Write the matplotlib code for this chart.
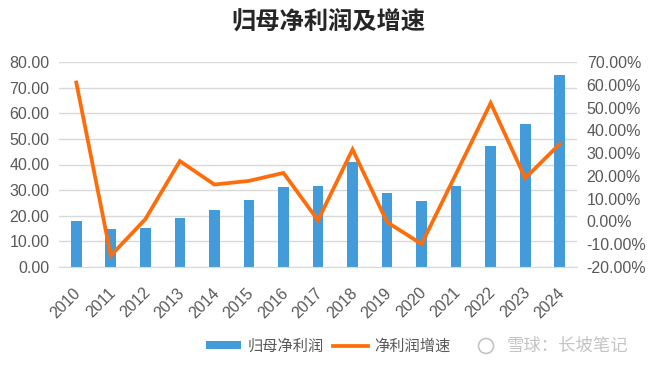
import matplotlib
matplotlib.use("Agg")
import matplotlib.pyplot as plt
import matplotlib.transforms as mtransforms
from matplotlib.patches import Patch, Ellipse
from matplotlib.lines import Line2D
from matplotlib.ticker import FuncFormatter, MultipleLocator

plt.rcParams['font.family'] = ['Liberation Sans', 'Noto Sans CJK SC', 'DejaVu Sans']

years = ['2010', '2011', '2012', '2013', '2014', '2015', '2016', '2017',
         '2018', '2019', '2020', '2021', '2022', '2023', '2024']
net_profit = [17.8, 14.8, 15.2, 19.3, 22.1, 26.2, 31.3, 31.6,
              41.0, 28.9, 25.6, 31.5, 47.3, 56.0, 75.0]
growth_pct = [61.0, -15.0, 1.0, 26.5, 16.2, 17.8, 21.3, 0.5,
              31.6, -0.3, -9.9, 21.0, 52.0, 19.0, 34.0]

title = '归母净利润及增速'
bar_label = '归母净利润'
line_label = '净利润增速'
watermark = '雪球：长坡笔记'

BLUE = '#439BDA'
ORANGE = '#FF6C0A'
GRID = '#D9D9D9'
TXT = '#595959'
WM = '#C4C4C4'

W, H = 660, 366
fig = plt.figure(figsize=(W / 100, H / 100), dpi=100)
ax = fig.add_axes([59 / W, 1 - 267 / H, 518 / W, 205 / H])
ax2 = ax.twinx()

x = list(range(len(years)))
ax.bar(x, net_profit, width=0.31, color=BLUE, zorder=2)
ax2.plot(x, growth_pct, color=ORANGE, lw=2.7, solid_joinstyle='miter', zorder=3)

ax.set_xlim(-0.5, len(years) - 0.5)
ax.set_ylim(0, 80)
ax.yaxis.set_major_locator(MultipleLocator(10))
ax.yaxis.set_major_formatter(FuncFormatter(lambda v, p: f'{v:.2f}'))
ax2.set_ylim(-20, 70)
ax2.yaxis.set_major_locator(MultipleLocator(10))
ax2.yaxis.set_major_formatter(FuncFormatter(lambda v, p: f'{v:.2f}%'))

ax.grid(axis='y', color=GRID, lw=1.0, zorder=0)
ax.set_axisbelow(True)
for a in (ax, ax2):
    for s in ('top', 'left', 'right', 'bottom'):
        a.spines[s].set_visible(False)
ax.spines['bottom'].set_visible(True)
ax.spines['bottom'].set_color(GRID)

ax.set_xticks(x)
ax.set_xticklabels(years, rotation=45, ha='right', va='top', rotation_mode='anchor')
ax.tick_params(axis='x', length=0, pad=13, labelsize=11.5, labelcolor=TXT)
ax.tick_params(axis='y', length=0, pad=7, labelsize=11.5, labelcolor=TXT)
ax2.tick_params(axis='y', length=0, pad=7, labelsize=11.5, labelcolor=TXT)
shift = mtransforms.ScaledTranslation(-3 / 100, 0, fig.dpi_scale_trans)
for lbl in ax.get_xticklabels():
    lbl.set_transform(lbl.get_transform() + shift)

fig.text(328 / W, 1 - 22 / H, title, ha='center', va='center', fontsize=17.5,
         fontweight='bold', color='#262626',
         family=['Noto Sans CJK SC', 'DejaVu Sans'])

handles = [Patch(facecolor=BLUE, edgecolor='none'),
           Line2D([0], [0], color=ORANGE, lw=2.7)]
leg = fig.legend(handles, [bar_label, line_label], loc='center',
                 bbox_to_anchor=(328 / W, 1 - 346 / H), ncol=2, frameon=False,
                 handlelength=2.3, handleheight=0.5, handletextpad=0.4,
                 columnspacing=0.6,
                 prop={'family': ['Noto Sans CJK SC', 'DejaVu Sans'], 'size': 11})
for t in leg.get_texts():
    t.set_color(TXT)

fig.patches.append(Ellipse((486 / W, 1 - 346 / H), 15 / W, 15 / H,
                           transform=fig.transFigure, fill=False,
                           edgecolor=WM, lw=1.2))
fig.text(507 / W, 1 - 346 / H, watermark, ha='left', va='center', fontsize=12.5,
         color=WM, family=['Noto Sans CJK SC', 'DejaVu Sans'])

fig.savefig('out.png', dpi=100)
